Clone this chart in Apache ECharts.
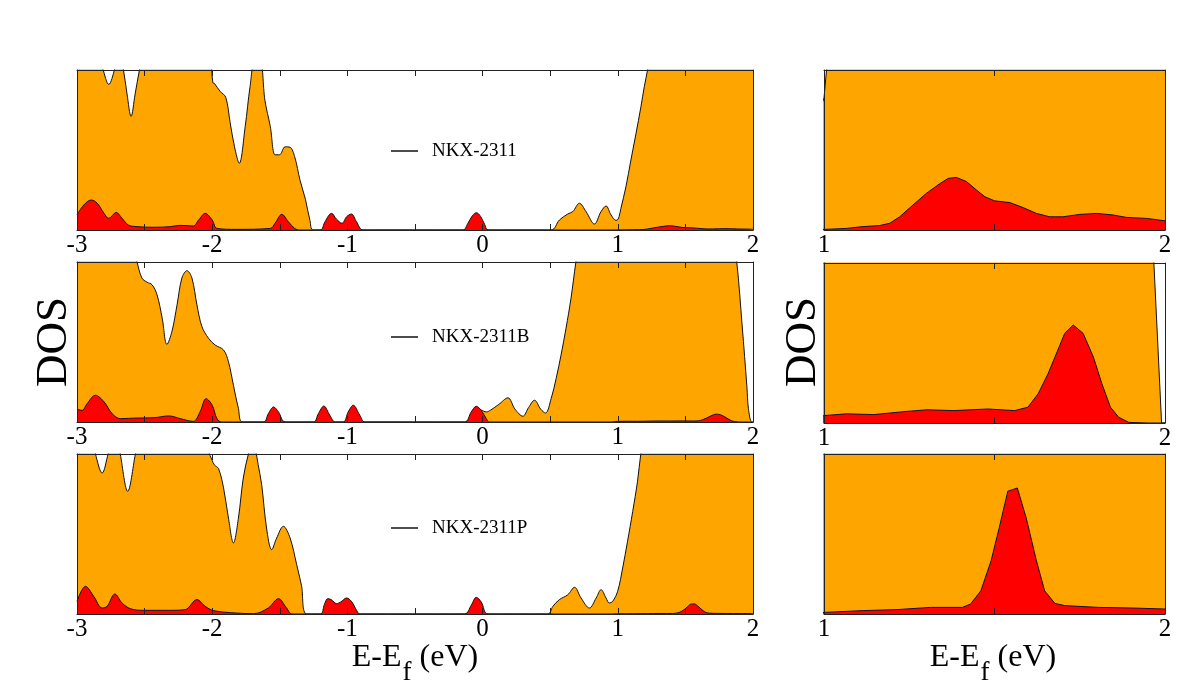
<!DOCTYPE html>
<html><head><meta charset="utf-8">
<script src="https://cdn.jsdelivr.net/npm/echarts@6/dist/echarts.min.js"></script>
<style>html,body{margin:0;padding:0;background:#fff}#c{width:1196px;height:690px}</style>
</head><body><div id="c"></div>
<script>
// ---------- data ----------
const systemNames = ['NKX-2311', 'NKX-2311B', 'NKX-2311P'];
const leftTicks = [-3, -2, -1, 0, 1, 2];
const rightTicks = [1, 2];

// NKX-2311 total DOS (orange) and partial DOS (red)
const totE_A = [-3.00,-2.85,-2.81,-2.765,-2.72,-2.69,-2.66,-2.63,-2.60,-2.57,-2.536,-2.50,-2.30,-2.10,-2.02,-1.995,-1.985,-1.94,-1.90,-1.867,-1.835,-1.80,-1.756,-1.72,-1.683,-1.646,-1.61,-1.57,-1.535,-1.503,-1.46,-1.424,-1.39,-1.35,-1.31,-1.277,-1.25,0.507,0.568,0.63,0.667,0.716,0.765,0.827,0.876,0.913,0.95,0.987,1.00,1.01,1.023,1.06,1.097,1.134,1.171,1.196,1.22,1.25,2.00];
const totV_A = [115,112,101,91,101,112,102,85,71,85,101,115,118,115,108,92,91.7,86.5,83,67,52,41.7,64.6,89.6,106,106,81,64.6,47,47,52,51.7,45.8,31,19,6,0,0,6.25,10,11.5,16.7,11.5,3.75,11.5,15,9.4,6.0,6.6,8.5,13.5,27,43.75,60,77,89.6,100,115,115];
const pdE_A = [-3.00,-2.95,-2.895,-2.85,-2.80,-2.765,-2.71,-2.667,-2.62,-2.556,-2.43,-2.31,-2.236,-2.14,-2.10,-2.052,-2.00,-1.965,-1.82,-1.57,-1.535,-1.485,-1.437,-1.39,-1.35,-1.20,-1.166,-1.117,-1.08,-1.04,-1.006,-0.97,-0.933,-0.884,-0.145,-0.11,-0.075,-0.046,-0.015,0.015,0.04,0.95,1.0,1.066,1.114,1.163,1.193,1.222,1.261,1.30,1.34,1.364,1.388,1.418,1.447,1.472,1.50,1.545,1.584,1.623,1.662,1.70,1.75,1.80,1.848,1.887,1.946,2.0];
const pdV_A = [9.4,15.6,18.75,16.7,10.4,7.3,11,7.3,3.1,2.1,1.7,2.1,2.9,2.5,6.25,10.4,6.25,1,0.4,1,4.2,9.8,5.2,1,0,0,5.2,10.4,6.7,4.2,8.3,10,5.2,0,0,4,9,10.8,8.5,3.5,0,0,0.03,0.08,0.17,0.22,0.34,0.66,1.25,1.83,2.32,2.58,2.63,2.42,2.0,1.66,1.46,1.37,1.12,0.83,0.66,0.66,0.78,0.83,0.75,0.63,0.58,0.46];

// NKX-2311B
const totE_B = [-3.00,-2.70,-2.58,-2.556,-2.52,-2.482,-2.445,-2.408,-2.37,-2.335,-2.298,-2.26,-2.224,-2.187,-2.15,-2.113,-2.076,-2.027,-1.978,-1.916,-1.88,-1.843,-1.806,-1.774,-0.13,-0.08,-0.047,-0.01,0.027,0.06,0.12,0.187,0.24,0.298,0.34,0.384,0.43,0.465,0.507,0.544,0.58,0.617,0.654,0.69,0.72,1.85,1.88,1.92,1.955,1.966,1.99,2.0];
const totV_B = [115,115,108,100,90,87.4,85.8,79.5,64.9,48.5,56.5,73.2,90,94.6,90,73.2,59.6,52.3,48.1,45,37.7,23,8.4,0,0,4,8.5,7.5,6.3,7.5,11,15.1,8,3.6,9,13.6,8,5.6,14.6,27.2,41.8,58.6,77.4,100,115,115,100,60,22,8.5,0,0];
const pdE_B = [-3.00,-2.962,-2.925,-2.864,-2.80,-2.74,-2.68,-2.556,-2.43,-2.32,-2.236,-2.14,-2.09,-2.045,-2.00,-1.965,-1.93,-1.62,-1.585,-1.546,-1.51,-1.46,-1.25,-1.215,-1.174,-1.13,-1.09,-1.03,-0.994,-0.957,-0.908,-0.87,-0.133,-0.084,-0.047,-0.01,0.027,0.052,0.95,1.0,1.066,1.145,1.243,1.302,1.381,1.48,1.559,1.598,1.628,1.657,1.706,1.731,1.76,1.79,1.815,1.84,1.864,1.894,1.95,2.0];
const pdV_B = [7.9,7.3,11.5,16.7,12.6,5.2,2.1,2.5,2.7,3.8,2.1,0.4,6.3,14.6,10.5,2.1,0,0,5.2,9.4,6.3,0,0,5.2,10,4.2,0,0,6.3,10.5,4.2,0,0,6.3,9.8,7.3,2.1,0,0,0.37,0.46,0.42,0.58,0.66,0.62,0.70,0.62,0.79,1.46,2.46,4.48,4.9,4.48,3.3,1.96,0.79,0.29,0.03,0,0];

// NKX-2311P
const totE_C = [-3.00,-2.88,-2.863,-2.814,-2.77,-2.74,-2.70,-2.68,-2.625,-2.568,-2.54,-2.30,-2.06,-2.03,-2.0,-1.985,-1.953,-1.916,-1.88,-1.843,-1.806,-1.77,-1.732,-1.70,-1.683,-1.66,-1.634,-1.598,-1.56,-1.523,-1.474,-1.424,-1.375,-1.34,-1.30,0.482,0.52,0.568,0.63,0.68,0.728,0.79,0.84,0.876,0.913,0.937,0.962,0.999,1.036,1.072,1.11,1.146,1.17,1.20,2.0];
const totV_C = [115,110,100,88.1,100,110,110,100,76.7,100,112,118,110,102,96,93.3,90.8,78.8,60,44.4,60,85,100,108,104,93.3,80.8,53.75,40.2,47.5,54.8,47.5,30.8,18,0,0,4.8,9,12,16.7,10,3.75,10,15.2,10,6.9,7.9,14.2,28.75,45.4,64,83,100,115,115];
const pdE_C = [-3.00,-2.937,-2.876,-2.814,-2.777,-2.72,-2.667,-2.605,-2.507,-2.31,-2.2,-2.113,-2.052,-1.99,-1.82,-1.695,-1.585,-1.51,-1.45,-1.41,-1.20,-1.17,-1.145,-1.12,-1.08,-1.05,-1.006,-0.97,-0.93,-0.908,-0.133,-0.084,-0.047,-0.01,0.04,0.95,1.0,1.115,1.214,1.312,1.406,1.43,1.46,1.49,1.514,1.539,1.567,1.593,1.623,1.647,1.677,1.706,1.805,1.903,2.0];
const pdV_C = [7.9,17.3,11,3.75,4.8,12.5,6.9,3.3,2.3,2.3,2.7,9,4.8,2.1,0.6,0.2,3.75,9.6,3.75,0,0,6,9.6,9,6.5,7.5,10,7.9,2,0,0,5.5,10.4,7.5,0,0,0.08,0.17,0.22,0.33,0.33,0.5,1.16,2.66,4.32,6.14,6.3,4.8,2.66,1.16,0.53,0.42,0.33,0.3,0.25];

// ---------- build ----------
const FONT = 'Liberation Serif';
const AX = '#222';
const systems = [
  {name: systemNames[0], tE: totE_A, tV: totV_A, pE: pdE_A, pV: pdV_A},
  {name: systemNames[1], tE: totE_B, tV: totV_B, pE: pdE_B, pV: pdV_B},
  {name: systemNames[2], tE: totE_C, tV: totV_C, pE: pdE_C, pV: pdV_C}
];
const pairs = (xs, ys) => xs.map((x, i) => [x, ys[i]]);
const leftTops = [70, 262, 454];
const rightTops = [70, 263, 454];
const legendTops = [140, 326, 517];

const grid = [], xAxis = [], yAxis = [], series = [], legend = [];

function addPanel(left, top, width, xmin, xmax, ymax, ticks, smooth, sys) {
  const gi = grid.length;
  grid.push({left: left, top: top, width: width, height: 160, containLabel: false});
  const labelFmt = v => (ticks.some(t => Math.abs(t - v) < 1e-9) ? String(Math.round(v)) : '');
  const common = {type: 'value', gridIndex: gi, min: xmin, max: xmax, interval: 0.5, z: 10,
    splitLine: {show: false},
    axisLine: {show: true, onZero: false, lineStyle: {color: AX, width: 1}},
    axisTick: {show: true, inside: true, length: 6, lineStyle: {color: AX, width: 1}}};
  xAxis.push(Object.assign({}, common, {position: 'bottom',
    axisLabel: {show: true, formatter: labelFmt, margin: 3, color: '#000', fontFamily: FONT, fontSize: 25}}));
  xAxis.push(Object.assign({}, common, {position: 'top', axisLabel: {show: false}}));
  const ycommon = {type: 'value', gridIndex: gi, min: 0, max: ymax, z: 10,
    splitLine: {show: false}, axisTick: {show: false}, axisLabel: {show: false},
    axisLine: {show: true, onZero: false, lineStyle: {color: AX, width: 1}}};
  yAxis.push(Object.assign({}, ycommon, {position: 'left'}));
  yAxis.push(Object.assign({}, ycommon, {position: 'right'}));
  const xi = 2 * gi, yi = 2 * gi;
  series.push({type: 'line', xAxisIndex: xi, yAxisIndex: yi, data: pairs(sys.tE, sys.tV),
    smooth: smooth, symbol: 'none', z: 2, clip: true,
    itemStyle: {color: '#FFA500'}, lineStyle: {color: '#111', width: 1},
    areaStyle: {color: '#FFA500', opacity: 1}});
  series.push({type: 'line', xAxisIndex: xi, yAxisIndex: yi, data: pairs(sys.pE, sys.pV),
    smooth: smooth, symbol: 'none', z: 3, clip: true,
    itemStyle: {color: '#FF0000'}, lineStyle: {color: '#111', width: 1},
    areaStyle: {color: '#FF0000', opacity: 1}});
  return {xi, yi};
}

systems.forEach((sys, k) => {
  const ax = addPanel(77, leftTops[k], 676, -3, 2, 100, leftTicks, 0.35, sys);
  // legend entry (black line)
  series.push({type: 'line', name: sys.name, xAxisIndex: ax.xi, yAxisIndex: ax.yi, data: [],
    symbol: 'none', itemStyle: {color: '#000'}, lineStyle: {color: '#000', width: 1}});
  legend.push({data: [{name: sys.name, icon: 'rect'}], left: 391, top: legendTops[k], padding: 0,
    itemWidth: 27, itemHeight: 1.4, selectedMode: false,
    textStyle: {fontFamily: FONT, fontSize: 19, color: '#000', padding: [0, 0, 0, 9], lineHeight: 22}});
  addPanel(824, rightTops[k], 341, 1, 2, 8, rightTicks, false, sys);
});

const titleRich = {
  m: {fontFamily: FONT, fontSize: 32, lineHeight: 32, fill: '#000', verticalAlign: 'top'},
  s: {fontFamily: FONT, fontSize: 27, lineHeight: 27, fill: '#000', verticalAlign: 'top', padding: [17, 0, 0, 1]}
};
const graphic = [
  {type: 'text', x: 54, y: 342, rotation: Math.PI / 2,
   style: {text: 'DOS', fontFamily: FONT, fontSize: 45, fill: '#000', align: 'center', verticalAlign: 'middle'}},
  {type: 'text', x: 803, y: 342, rotation: Math.PI / 2,
   style: {text: 'DOS', fontFamily: FONT, fontSize: 45, fill: '#000', align: 'center', verticalAlign: 'middle'}},
  {type: 'text', x: 415, y: 642,
   style: {text: '{m|E-E}{s|f}{m| (eV)}', rich: titleRich, align: 'center', verticalAlign: 'top'}},
  {type: 'text', x: 993, y: 642,
   style: {text: '{m|E-E}{s|f}{m| (eV)}', rich: titleRich, align: 'center', verticalAlign: 'top'}}
];

const chart = echarts.init(document.getElementById('c'), null, {renderer: 'canvas'});
chart.setOption({animation: false, backgroundColor: '#fff', grid, xAxis, yAxis, series, legend, graphic});
</script>
</body></html>
